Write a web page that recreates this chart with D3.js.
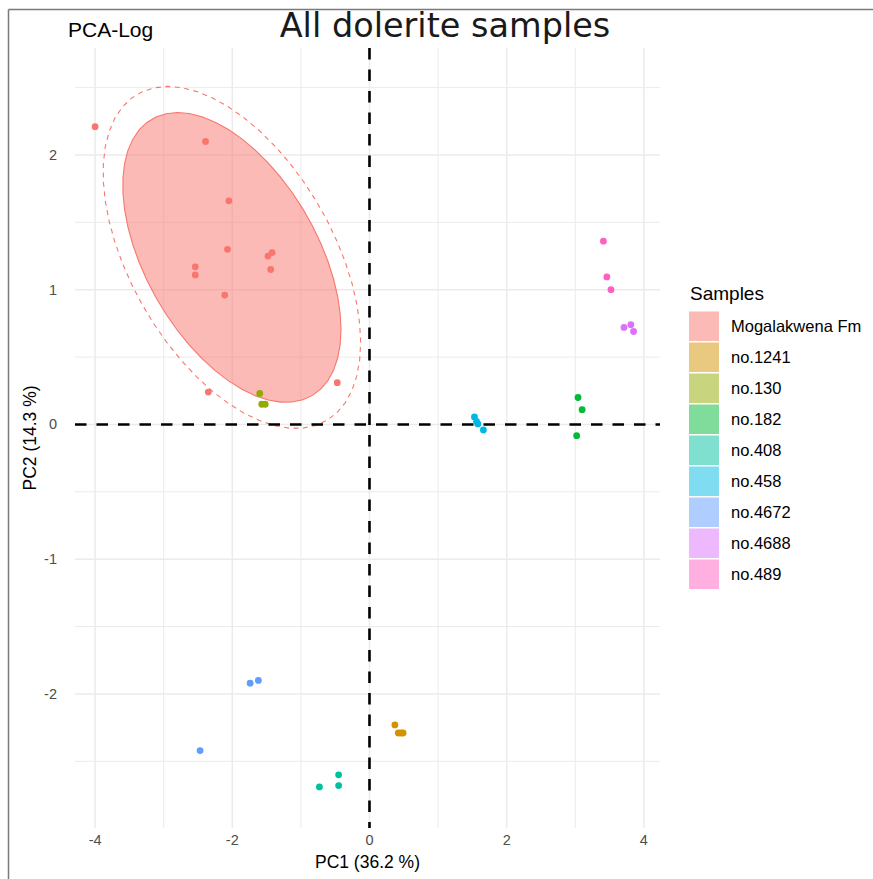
<!DOCTYPE html>
<html>
<head>
<meta charset="utf-8">
<script src="https://cdn.jsdelivr.net/npm/d3@7"></script>
<style>
  html, body { margin: 0; padding: 0; background: #fff; }
  svg { display: block; }
  text { font-family: "Liberation Sans", Arial, sans-serif; }
</style>
</head>
<body>
<svg id="chart" width="873" height="879"></svg>
<script>
// ---------------- data ----------------
const categories = ["Mogalakwena Fm", "no.1241", "no.130", "no.182", "no.408", "no.458", "no.4672", "no.4688", "no.489"];
const palette = ["#F8766D", "#D39200", "#93AA00", "#00BA38", "#00C19F", "#00B9E3", "#619CFF", "#DB72FB", "#FF61C3"];

const sampleGroup = [
  "Mogalakwena Fm","Mogalakwena Fm","Mogalakwena Fm","Mogalakwena Fm","Mogalakwena Fm","Mogalakwena Fm",
  "Mogalakwena Fm","Mogalakwena Fm","Mogalakwena Fm","Mogalakwena Fm","Mogalakwena Fm","Mogalakwena Fm",
  "no.1241","no.1241","no.1241","no.1241",
  "no.130","no.130","no.130",
  "no.182","no.182","no.182",
  "no.408","no.408","no.408",
  "no.458","no.458","no.458","no.458",
  "no.4672","no.4672","no.4672",
  "no.4688","no.4688","no.4688",
  "no.489","no.489","no.489"
];
const pc1 = [
  -4.00, -2.39, -2.05, -2.07, -1.48, -1.42, -1.44, -2.54, -2.54, -2.11, -2.35, -0.47,
  0.37, 0.42, 0.46, 0.49,
  -1.60, -1.57, -1.52,
  3.04, 3.10, 3.02,
  -0.45, -0.45, -0.73,
  1.53, 1.56, 1.58, 1.66,
  -1.74, -1.62, -2.47,
  3.71, 3.81, 3.85,
  3.41, 3.46, 3.52
];
const pc2 = [
  2.21, 2.10, 1.66, 1.30, 1.25, 1.275, 1.15, 1.17, 1.11, 0.96, 0.24, 0.31,
  -2.23, -2.29, -2.29, -2.29,
  0.23, 0.15, 0.15,
  0.20, 0.11, -0.083,
  -2.60, -2.68, -2.69,
  0.056, 0.022, 0.004, -0.041,
  -1.92, -1.90, -2.42,
  0.72, 0.74, 0.69,
  1.36, 1.095, 1.00
];
const xTicks = [-4, -2, 0, 2, 4];
const xMinor = [-3, -1, 1, 3];
const yTicks = [-2, -1, 0, 1, 2];
const yMinor = [-2.5, -1.5, -0.5, 0.5, 1.5, 2.5];
const ellipseGroup = "Mogalakwena Fm";
const ellipseLevels = { filled: 0.90, dashed: 0.95 };

// ---------------- layout ----------------
const svg = d3.select("#chart");
const W = 873, H = 879;
const panel = { left: 75, right: 660, top: 48, bottom: 828 };

const x = d3.scaleLinear().domain([-4.293, 4.235]).range([panel.left, panel.right]);
const y = d3.scaleLinear().domain([-2.995, 2.794]).range([panel.bottom, panel.top]);
const color = d3.scaleOrdinal().domain(categories).range(palette);

svg.append("rect").attr("width", W).attr("height", H).attr("fill", "#fff");

// grid
const grid = svg.append("g");
grid.selectAll(".vmin").data(xMinor).join("line")
  .attr("x1", d => x(d)).attr("x2", d => x(d)).attr("y1", panel.top).attr("y2", panel.bottom)
  .attr("stroke", "#EBEBEB").attr("stroke-width", 1);
grid.selectAll(".hmin").data(yMinor).join("line")
  .attr("y1", d => y(d)).attr("y2", d => y(d)).attr("x1", panel.left).attr("x2", panel.right)
  .attr("stroke", "#EBEBEB").attr("stroke-width", 1);
grid.selectAll(".vmaj").data(xTicks).join("line")
  .attr("x1", d => x(d)).attr("x2", d => x(d)).attr("y1", panel.top).attr("y2", panel.bottom)
  .attr("stroke", "#EBEBEB").attr("stroke-width", 1.5);
grid.selectAll(".hmaj").data(yTicks).join("line")
  .attr("y1", d => y(d)).attr("y2", d => y(d)).attr("x1", panel.left).attr("x2", panel.right)
  .attr("stroke", "#EBEBEB").attr("stroke-width", 1.5);

// ---------------- ellipse (robust t, like stat_ellipse type "t") ----------------
function covTrob(pts, nu) {
  const n = pts.length, p = 2;
  let loc = [d3.mean(pts, d => d[0]), d3.mean(pts, d => d[1])];
  let w = pts.map(() => 1);
  let X, a, b, c;
  for (let it = 0; it < 200; it++) {
    const w0 = w.slice();
    X = pts.map(d => [d[0] - loc[0], d[1] - loc[1]]);
    const sw = d3.sum(w);
    a = 0; b = 0; c = 0;
    X.forEach((v, i) => { a += w[i] * v[0] * v[0]; b += w[i] * v[0] * v[1]; c += w[i] * v[1] * v[1]; });
    a /= sw; b /= sw; c /= sw;
    const det = a * c - b * b;
    const Q = X.map(v => (c * v[0] * v[0] - 2 * b * v[0] * v[1] + a * v[1] * v[1]) / det);
    w = Q.map(q => (nu + p) / (nu + q));
    const swn = d3.sum(w);
    loc = [d3.sum(pts, (d, i) => w[i] * d[0]) / swn, d3.sum(pts, (d, i) => w[i] * d[1]) / swn];
    if (w.every((v, i) => Math.abs(v - w0[i]) < 1e-4)) break;
  }
  let A = 0, B = 0, C = 0;
  X.forEach((v, i) => { A += w[i] * v[0] * v[0]; B += w[i] * v[0] * v[1]; C += w[i] * v[1] * v[1]; });
  return { center: loc, cov: [A / n, B / n, C / n] };
}
function ellipsePts(est, level, n) {
  const dfn = 2, dfd = n - 1;
  // qf for dfn = 2 has a closed form
  const qf = (dfd / 2) * (Math.pow(1 - level, -2 / dfd) - 1);
  const r = Math.sqrt(dfn * qf);
  const [a, b, c] = est.cov;
  const r11 = Math.sqrt(a), r12 = b / Math.sqrt(a), r22 = Math.sqrt(c - b * b / a);
  const out = [];
  for (let k = 0; k <= 51; k++) {
    const t = 2 * Math.PI * k / 51;
    const u = Math.cos(t), v = Math.sin(t);
    out.push([est.center[0] + r * u * r11, est.center[1] + r * (u * r12 + v * r22)]);
  }
  return out;
}
const ePts = sampleGroup.map((g, i) => [pc1[i], pc2[i], g]).filter(d => d[2] === ellipseGroup).map(d => [d[0], d[1]]);
const est = covTrob(ePts, 5);
const line = d3.line().x(d => x(d[0])).y(d => y(d[1])).curve(d3.curveLinearClosed);

svg.append("clipPath").attr("id", "clip").append("rect")
  .attr("x", panel.left).attr("y", panel.top).attr("width", panel.right - panel.left).attr("height", panel.bottom - panel.top);
const pg = svg.append("g").attr("clip-path", "url(#clip)");

pg.append("path").attr("d", line(ellipsePts(est, ellipseLevels.filled, ePts.length)))
  .attr("fill", color(ellipseGroup)).attr("fill-opacity", 0.5)
  .attr("stroke", color(ellipseGroup)).attr("stroke-width", 1.1);
pg.append("path").attr("d", line(ellipsePts(est, ellipseLevels.dashed, ePts.length)))
  .attr("fill", "none").attr("stroke", color(ellipseGroup)).attr("stroke-width", 1.1)
  .attr("stroke-dasharray", "5,4.5");

// reference lines
pg.append("line").attr("x1", panel.left).attr("x2", panel.right).attr("y1", y(0)).attr("y2", y(0))
  .attr("stroke", "#000").attr("stroke-width", 2.6).attr("stroke-dasharray", "11.5,10");
pg.append("line").attr("x1", x(0)).attr("x2", x(0)).attr("y1", panel.top).attr("y2", panel.bottom)
  .attr("stroke", "#000").attr("stroke-width", 2.6).attr("stroke-dasharray", "11.5,10");

// points
pg.selectAll("circle.pt").data(pc1.map((v, i) => ({ x: v, y: pc2[i], g: sampleGroup[i] })))
  .join("circle").attr("class", "pt")
  .attr("cx", d => x(d.x)).attr("cy", d => y(d.y)).attr("r", 3.4)
  .attr("fill", d => color(d.g));

// axes labels
svg.append("g").selectAll("text").data(xTicks).join("text")
  .attr("x", d => x(d)).attr("y", 845).attr("text-anchor", "middle")
  .attr("font-size", 14.5).attr("fill", "#4D4D4D").text(d => d);
svg.append("g").selectAll("text").data(yTicks).join("text")
  .attr("x", 57).attr("y", d => y(d) + 5).attr("text-anchor", "end")
  .attr("font-size", 14.5).attr("fill", "#4D4D4D").text(d => d);

svg.append("text").attr("x", (panel.left + panel.right) / 2).attr("y", 868).attr("text-anchor", "middle")
  .attr("font-size", 17.5).attr("fill", "#000").text("PC1 (36.2 %)");
svg.append("text").attr("transform", `translate(36,${(panel.top + panel.bottom) / 2}) rotate(-90)`)
  .attr("text-anchor", "middle").attr("font-size", 17.5).attr("fill", "#000").text("PC2 (14.3 %)");

// titles
svg.append("text").attr("x", 445).attr("y", 37).attr("text-anchor", "middle")
  .style("font-family", "'DejaVu Sans', sans-serif").attr("font-size", 33.5).attr("fill", "#1a1a1a")
  .text("All dolerite samples");
svg.append("text").attr("x", 68).attr("y", 37).attr("font-size", 21).attr("fill", "#000").text("PCA-Log");

// legend
const lg = svg.append("g");
lg.append("text").attr("x", 690).attr("y", 300).attr("font-size", 19).attr("fill", "#000").text("Samples");
const item = lg.selectAll("g.item").data(categories).join("g").attr("class", "item")
  .attr("transform", (d, i) => `translate(689,${311.5 + i * 31})`);
item.append("rect").attr("width", 30).attr("height", 29.5)
  .attr("fill", d => color(d)).attr("fill-opacity", 0.5);
item.append("text").attr("x", 42).attr("y", 15).attr("dy", "0.35em")
  .attr("font-size", 16.5).attr("fill", "#000").text(d => d);

// window border (top and left)
svg.append("line").attr("x1", 8.5).attr("x2", W).attr("y1", 9.5).attr("y2", 9.5).attr("stroke", "#7a7a7a").attr("stroke-width", 1.5);
svg.append("line").attr("x1", 8.5).attr("x2", 8.5).attr("y1", 9.5).attr("y2", H).attr("stroke", "#7a7a7a").attr("stroke-width", 1.5);
</script>
</body>
</html>
